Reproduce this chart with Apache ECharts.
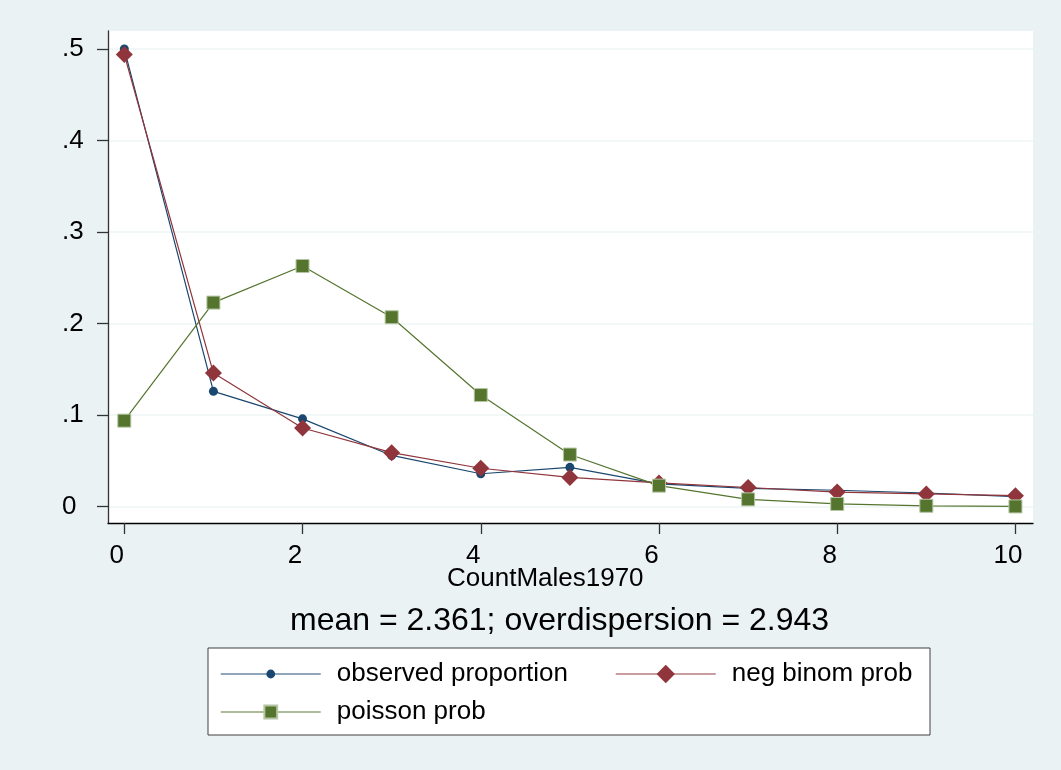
<!DOCTYPE html>
<html>
<head>
<meta charset="utf-8">
<title>CountMales1970</title>
<script src="https://cdn.jsdelivr.net/npm/echarts@6/dist/echarts.min.js"></script>
<style>
  html, body { margin: 0; padding: 0; background: #eaf2f3; }
  #chart { width: 1061px; height: 770px; }
</style>
</head>
<body>
<div id="chart"></div>
<script>
var counts = [0, 1, 2, 3, 4, 5, 6, 7, 8, 9, 10];
var observed = [0.500, 0.126, 0.096, 0.056, 0.036, 0.043, 0.025, 0.020, 0.018, 0.015, 0.011];
var negBinom = [0.494, 0.146, 0.086, 0.059, 0.042, 0.032, 0.026, 0.021, 0.016, 0.014, 0.012];
var poisson = [0.094, 0.223, 0.263, 0.207, 0.122, 0.057, 0.023, 0.008, 0.003, 0.001, 0.0003];
var xTicks = [0, 2, 4, 6, 8, 10];
var yTicks = [0, 0.1, 0.2, 0.3, 0.4, 0.5];

var font = '"Liberation Sans", Arial, sans-serif';

function pairs(vals) {
    return counts.map(function (c, i) { return [c, vals[i]]; });
}

function yLabel(v) {
    if (v === 0) return '0';
    return '.' + Math.round(v * 10);
}

var myChart = echarts.init(document.getElementById('chart'));
var legendText = { fontFamily: font, fontSize: 26, color: '#000', lineHeight: 26, padding: [0, 0, 0, 11] };
var legendLine = { width: 1.5, opacity: 0.65 };
var option = {
    animation: false,
    backgroundColor: '#eaf2f3',
    title: [{
        text: 'CountMales1970',
        left: 447,
        top: 566,
        padding: 0,
        textStyle: { fontFamily: font, fontSize: 26, fontWeight: 'normal', color: '#000' }
    }, {
        text: 'mean = 2.361; overdispersion = 2.943',
        left: 290,
        top: 605,
        padding: 0,
        textStyle: { fontFamily: font, fontSize: 32, fontWeight: 'normal', color: '#000' }
    }],
    graphic: [{
        type: 'rect',
        shape: { x: 208, y: 648, width: 722, height: 87 },
        style: { fill: '#fff', stroke: '#404040', lineWidth: 1 },
        z: -1
    }],
    legend: [{
        data: ['observed proportion'],
        left: 220, top: 661, padding: 0,
        itemWidth: 100, itemHeight: 11,
        lineStyle: legendLine,
        textStyle: legendText
    }, {
        data: ['neg binom prob'],
        left: 615, top: 661, padding: 0,
        itemWidth: 100, itemHeight: 23,
        lineStyle: legendLine,
        textStyle: legendText
    }, {
        data: ['poisson prob'],
        left: 220, top: 699, padding: 0,
        itemWidth: 100, itemHeight: 16,
        lineStyle: legendLine,
        textStyle: legendText
    }],
    grid: {
        left: 108,
        right: 28,
        top: 31,
        bottom: 247,
        show: true,
        backgroundColor: '#fff',
        borderWidth: 0
    },
    xAxis: {
        type: 'value',
        min: -0.183,
        max: 10.197,
        axisLine: { onZero: false, lineStyle: { color: '#000', width: 1.3 } },
        axisTick: { customValues: xTicks, length: 11, lineStyle: { color: '#333', width: 1.3 } },
        axisLabel: {
            customValues: xTicks,
            margin: 20,
            fontFamily: font, fontSize: 26, color: '#000',
            lineHeight: 26,
            padding: [0, 15, 0, 0]
        },
        splitLine: { show: false }
    },
    yAxis: {
        type: 'value',
        min: -0.0178,
        max: 0.5197,
        axisLine: { show: true, onZero: false, lineStyle: { color: '#333', width: 1.3 } },
        axisTick: { show: true, customValues: yTicks, length: 11, lineStyle: { color: '#333', width: 1.3 } },
        axisLabel: {
            customValues: yTicks,
            align: 'left',
            margin: 46,
            fontFamily: font, fontSize: 26, color: '#000',
            formatter: yLabel
        },
        splitLine: { show: true, lineStyle: { color: '#eef4f5', width: 1.5 } }
    },
    series: [{
        name: 'observed proportion',
        type: 'line',
        data: pairs(observed),
        symbol: 'circle',
        symbolSize: 9,
        color: '#1a476f',
        lineStyle: { width: 1.2 },
        z: 2
    }, {
        name: 'neg binom prob',
        type: 'line',
        data: pairs(negBinom),
        symbol: 'diamond',
        symbolSize: 17,
        color: '#90353b',
        lineStyle: { width: 1.2 },
        z: 3
    }, {
        name: 'poisson prob',
        type: 'line',
        data: pairs(poisson),
        symbol: 'rect',
        symbolSize: 13,
        color: '#55752f',
        lineStyle: { width: 1.2 },
        itemStyle: { borderColor: '#b4c6a2', borderWidth: 1 },
        z: 4
    }]
};
myChart.setOption(option);
</script>
</body>
</html>
